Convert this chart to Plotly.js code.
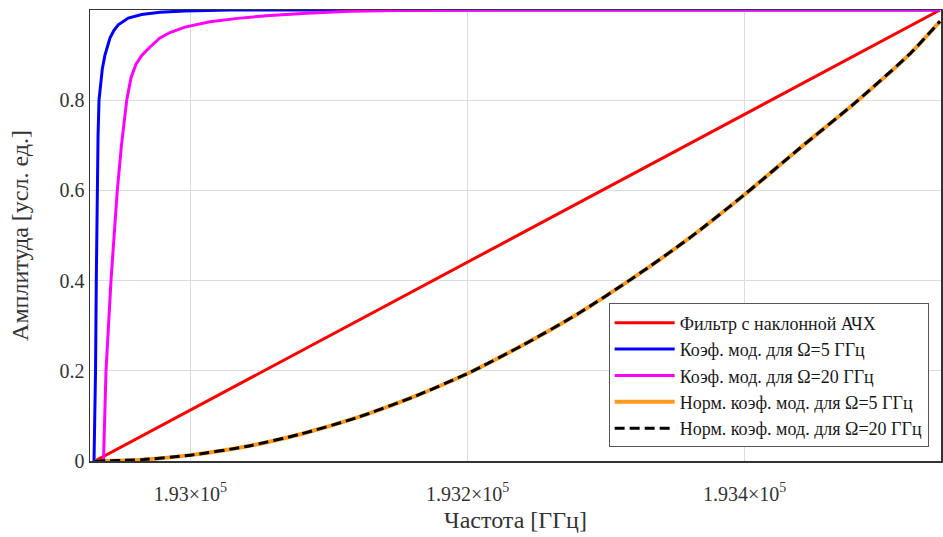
<!DOCTYPE html>
<html>
<head>
<meta charset="utf-8">
<script src="https://cdn.plot.ly/plotly-3.0.1.min.js"></script>
<style>html,body{margin:0;padding:0;background:#fff;}#chart{width:943px;height:537px;}</style>
</head>
<body>
<div id="chart"></div>
<script>
// Frequencies in GHz
const filterFreq = [192931, 193541];
const filterVals = [0, 1];

const mod5Freq = [192930.4, 192931.5, 192932.05, 192932.55, 192933.3, 192934.0, 192935.1, 192936.4, 192938.3, 192941.9, 192944.8, 192947.9, 192955.1, 192964.8, 192978.0, 192996.0, 193028.5, 193541];
const mod5Vals = [0, 0.2, 0.4, 0.6, 0.72, 0.8, 0.84, 0.87, 0.9, 0.938, 0.955, 0.967, 0.982, 0.99, 0.995, 0.998, 1, 1];

const mod20Freq = [192937.25, 192939.05, 192942.65, 192947.2, 192950.2, 192954.0, 192957.1, 192960.7, 192965.0, 192970.8, 192978.0, 192985.2, 192996.0, 193014.1, 193035.7, 193057.3, 193084.0, 193115.0, 193151.1, 193223.2, 193541];
const mod20Vals = [0, 0.2, 0.4, 0.6, 0.7, 0.8, 0.85, 0.88, 0.9, 0.918, 0.938, 0.95, 0.962, 0.974, 0.982, 0.988, 0.993, 0.997, 0.999, 1, 1];

const normFreq = [192931, 192965, 193000, 193040, 193080, 193120, 193160, 193200, 193240, 193280, 193320, 193360, 193400, 193440, 193480, 193520, 193541];
const normMod5Vals = [0, 0.003, 0.013, 0.032, 0.060, 0.096, 0.141, 0.194, 0.257, 0.327, 0.407, 0.494, 0.591, 0.694, 0.795, 0.905, 0.975];
const normMod20Vals = [0, 0.003, 0.013, 0.032, 0.060, 0.096, 0.141, 0.194, 0.257, 0.327, 0.407, 0.494, 0.591, 0.694, 0.795, 0.905, 0.975];

const xTickVals = [193000, 193200, 193400];
const xTickText = ['1.93×10<sup>5</sup>', '1.932×10<sup>5</sup>', '1.934×10<sup>5</sup>'];
const yTickVals = [0, 0.2, 0.4, 0.6, 0.8];
const yTickText = ['0', '0.2', '0.4', '0.6', '0.8'];

const seriesNames = [
  'Фильтр с наклонной АЧХ',
  'Коэф. мод. для Ω=5 ГГц',
  'Коэф. мод. для Ω=20 ГГц',
  'Норм. коэф. мод. для Ω=5 ГГц',
  'Норм. коэф. мод. для Ω=20 ГГц'
];

const serif = 'Liberation Serif, Times New Roman, serif';

const traces = [
  {x: filterFreq, y: filterVals, name: seriesNames[0], mode: 'lines', line: {color: '#ff0000', width: 3}},
  {x: mod5Freq, y: mod5Vals, name: seriesNames[1], mode: 'lines', line: {color: '#0000ff', width: 3}},
  {x: mod20Freq, y: mod20Vals, name: seriesNames[2], mode: 'lines', line: {color: '#ff00ff', width: 3}},
  {x: normFreq, y: normMod5Vals, name: seriesNames[3], mode: 'lines', line: {color: '#ff9a1f', width: 4, shape: 'spline', smoothing: 0.6}},
  {x: normFreq, y: normMod20Vals, name: seriesNames[4], mode: 'lines', line: {color: '#000000', width: 3, dash: '10px,5px', shape: 'spline', smoothing: 0.6}}
];

const layout = {
  width: 943, height: 537,
  margin: {l: 90, r: 2, t: 10, b: 76, pad: 0},
  paper_bgcolor: '#ffffff', plot_bgcolor: '#ffffff',
  font: {family: serif, color: '#333333', size: 20},
  showlegend: true,
  legend: {
    x: 0.9855, y: 0.03, xanchor: 'right', yanchor: 'bottom',
    bgcolor: '#ffffff', bordercolor: '#555555', borderwidth: 1,
    font: {family: serif, size: 18, color: '#1a1a1a'},
    itemwidth: 60, tracegroupgap: 0
  },
  xaxis: {
    range: [192927.5, 193541.7],
    tickmode: 'array', tickvals: xTickVals, ticktext: xTickText,
    showgrid: true, gridcolor: '#dcdcdc', gridwidth: 1,
    showline: true, linecolor: '#333333', linewidth: 1.5, mirror: true,
    zeroline: false, ticks: '', ticklabelstandoff: 14,
    tickfont: {family: serif, size: 20, color: '#333333'},
    title: {text: 'Частота [ГГц]', font: {family: serif, size: 24, color: '#333333'}, standoff: 7}
  },
  yaxis: {
    range: [0, 1],
    tickmode: 'array', tickvals: yTickVals, ticktext: yTickText,
    showgrid: true, gridcolor: '#dcdcdc', gridwidth: 1,
    showline: true, linecolor: '#333333', linewidth: 1.5, mirror: true,
    zeroline: false, ticks: '', ticklabelstandoff: 0,
    tickfont: {family: serif, size: 20, color: '#333333'},
    title: {text: 'Амплитуда [усл. ед.]', font: {family: serif, size: 24, color: '#333333'}, standoff: 24}
  }
};

Plotly.newPlot('chart', traces, layout, {displayModeBar: false, staticPlot: true});
</script>
</body>
</html>
